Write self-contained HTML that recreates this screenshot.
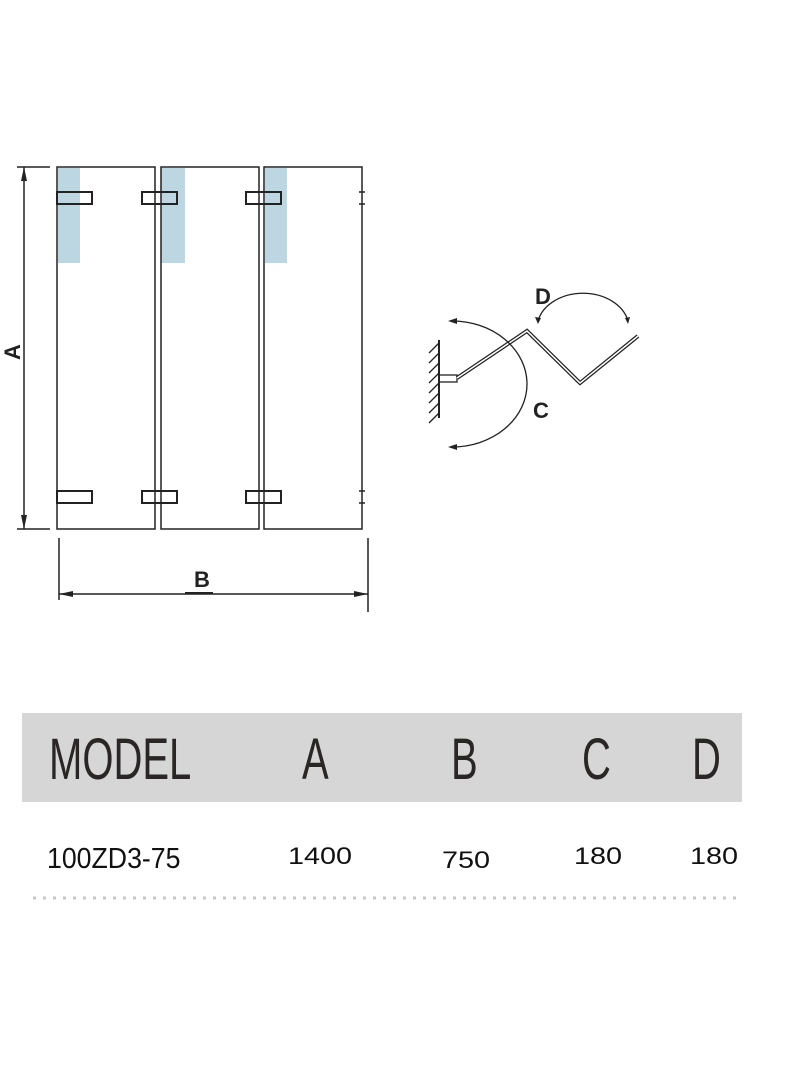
<!DOCTYPE html>
<html><head><meta charset="utf-8"><style>
html,body{margin:0;padding:0;background:#fff;width:800px;height:1066px;overflow:hidden;position:relative;font-family:"Liberation Sans",sans-serif}
.t{position:absolute;color:#2a2626;white-space:nowrap}
.h{font-size:58px;line-height:1;transform-origin:0 0;transform:scaleX(0.69)}
.r{font-size:24px;line-height:1;color:#111;transform-origin:0 0;transform:scaleX(1.2)}
.m{font-size:29px;line-height:1;color:#111;transform-origin:0 0;transform:scaleX(0.92)}
</style></head><body>
<svg width="800" height="1066" style="position:absolute;left:0;top:0" xmlns="http://www.w3.org/2000/svg">
<g fill="#bcd6e2">
<rect x="58" y="168" width="22" height="95"/>
<rect x="161" y="168" width="24" height="95"/>
<rect x="265" y="168" width="22" height="95"/>
</g>
<g fill="none" stroke="#222" stroke-width="1.5">
<rect x="57" y="167" width="98" height="362"/>
<rect x="161" y="167" width="98" height="362"/>
<rect x="264" y="167" width="98" height="362"/>
<rect x="57" y="192" width="35" height="12" stroke-width="2"/>
<rect x="142" y="192" width="35" height="12" stroke-width="2"/>
<rect x="246" y="192" width="35" height="12" stroke-width="2"/>
<rect x="57" y="491" width="35" height="12" stroke-width="2"/>
<rect x="142" y="491" width="35" height="12" stroke-width="2"/>
<rect x="246" y="491" width="35" height="12" stroke-width="2"/>
<path d="M359 192h6M359 204h6M359 491h6M359 503h6"/>
<path d="M17 167h33M17 529h33M24 167v362"/>
<path d="M59 538v62M368 538v74M59 594h309"/>
</g>
<g fill="#222">
<path d="M24 167l-3 14h6z"/><path d="M24 529l-3 -14h6z"/>
<path d="M59 594l14 -3v6z"/><path d="M368 594l-14 -3v6z"/>
<rect x="185" y="592" width="28" height="2"/>
</g>
<text x="0" y="0" transform="translate(20,352) rotate(-90)" text-anchor="middle" font-family="Liberation Sans" font-weight="bold" font-size="22" fill="#222">A</text>
<text x="202" y="587" text-anchor="middle" font-family="Liberation Sans" font-weight="bold" font-size="22" fill="#222">B</text>
<g stroke="#222" fill="none">
<path d="M439 340v78" stroke-width="2"/>
<path d="M439 343l-10 10M439 353l-10 10M439 363l-10 10M439 373l-10 10M439 383l-10 10M439 393l-10 10M439 403l-10 10M439 413l-10 10" stroke-width="1.3"/>
<rect x="439" y="375" width="18" height="7" stroke-width="1.3"/>
<path d="M457 378L527 331L580 383L638 336" stroke-width="4"/>
<path d="M457 378L527 331L580 383L638 336" stroke="#fff" stroke-width="1.5"/>
<path d="M452 321A75 63 0 0 1 452 447" stroke-width="1.3"/>
<path d="M538 321A46 35 0 0 1 628 321" stroke-width="1.3"/>
</g>
<g fill="#222">
<path d="M448 321l9 -3v6z"/><path d="M448 447l9 -3v6z"/>
<path d="M538 324l-3 -7l6 1z"/><path d="M628 324l-3 -6l5 -1z"/>
</g>
<text x="541" y="418" text-anchor="middle" font-family="Liberation Sans" font-weight="bold" font-size="22" fill="#222">C</text>
<text x="543" y="304" text-anchor="middle" font-family="Liberation Sans" font-weight="bold" font-size="22" fill="#222">D</text>
<rect x="22" y="713" width="720" height="89" fill="#d6d6d6"/>
<line x1="33" y1="898" x2="738" y2="898" stroke="#c8c8c8" stroke-width="3" stroke-dasharray="3 7"/>
</svg>
<div class="t h" style="left:49px;top:731px">MODEL</div>
<div class="t h" style="left:302px;top:731px">A</div>
<div class="t h" style="left:451px;top:731px">B</div>
<div class="t h" style="left:582px;top:731px">C</div>
<div class="t h" style="left:692px;top:731px">D</div>
<div class="t m" style="left:47px;top:845px">100ZD3-75</div>
<div class="t r" style="left:288px;top:845px">1400</div>
<div class="t r" style="left:442px;top:849px">750</div>
<div class="t r" style="left:574px;top:845px">180</div>
<div class="t r" style="left:690px;top:845px">180</div>
</body></html>
